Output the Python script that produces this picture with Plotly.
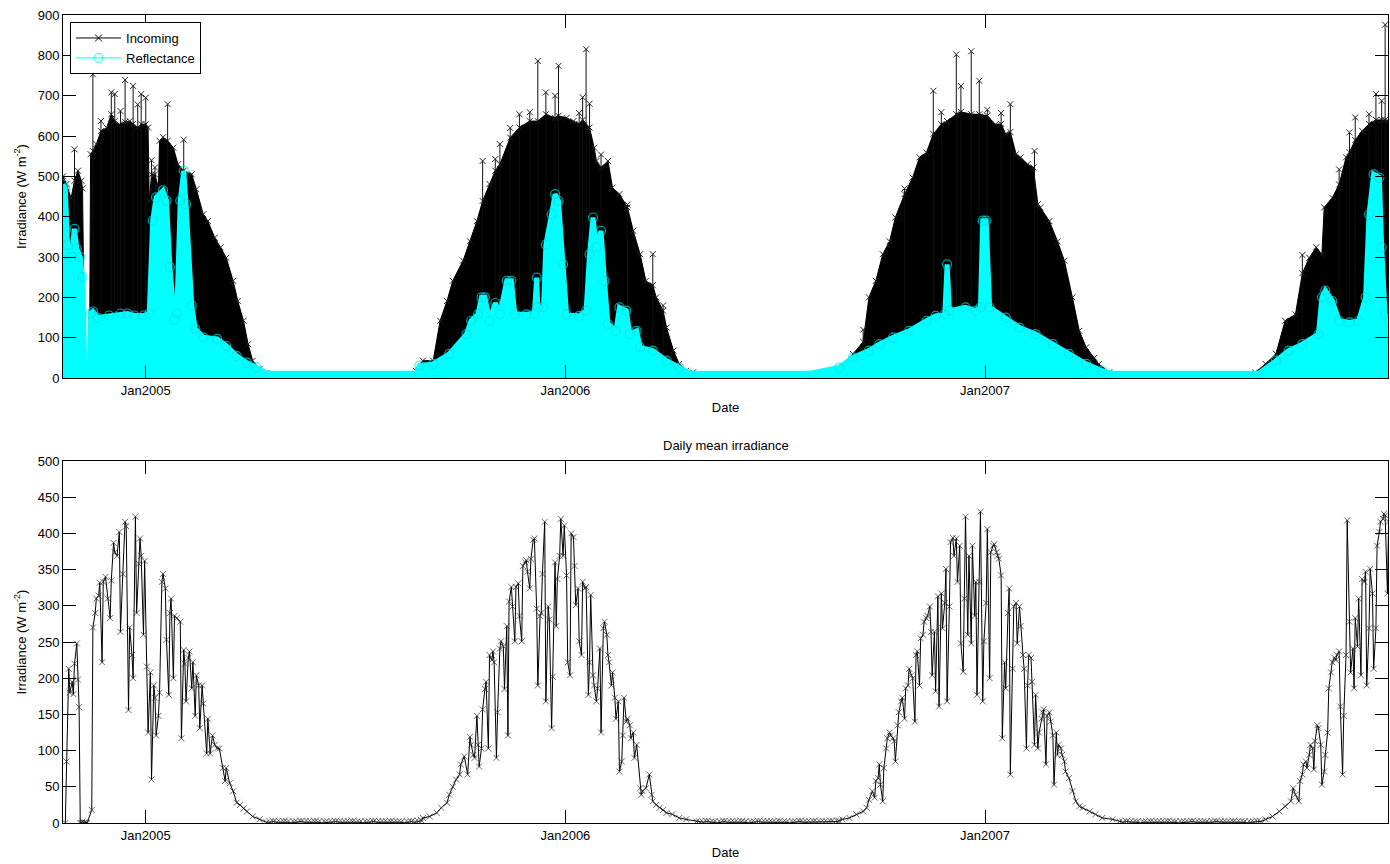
import pandas as pd
import plotly.graph_objects as go

BASE = "2004-10-21"          # day 0 of the record
X_END_DAY = 1152.5           # last day shown

# ---------------- top panel: incoming (daily envelope of hourly values) ----------------
inc_day = [0, 3, 7, 10, 13, 16, 17, 19, 23,
           24, 26, 29, 33, 38, 42, 45, 49, 54, 58, 61, 65, 68, 72, 74,
           75, 77, 80, 83, 84, 87, 91, 96, 100, 105, 112, 116, 122, 126, 132, 137, 142, 148, 152,
           157, 161, 165, 171, 177, 185, 250, 300,
           307, 313, 322, 328, 334, 339, 348, 354, 360, 365, 371, 376, 380, 389, 397, 406, 413, 420,
           428, 431, 438, 444, 449, 452, 458, 462, 464, 468, 474, 478, 484, 491, 496, 502, 507, 513,
           516, 522, 525, 531, 536, 542, 548, 555, 600, 650, 670,
           675, 687, 696, 701, 707, 713, 719, 724, 732, 739, 745, 751, 757, 764, 769, 777, 781, 790,
           797, 804, 811, 816, 820, 824, 829, 833, 839, 844, 848, 850, 858, 865, 871, 878, 884, 890,
           897, 901, 910, 918, 980, 1030,
           1037, 1046, 1055, 1063, 1072, 1078, 1084, 1090, 1095, 1097, 1104, 1110, 1116, 1119, 1124,
           1130, 1136, 1142, 1147, 1150, 1153]
inc_val = [500, 481, 446, 489, 514, 489, 470, 0, 0,
           555, 563, 580, 612, 621, 654, 637, 629, 635, 637, 630, 621, 629, 629, 621,
           439, 505, 505, 472, 588, 597, 588, 571, 530, 514, 505, 468, 406, 389, 348, 324, 298, 241, 191,
           142, 84, 43, 22, 12, 0, 0, 0,
           18, 43, 43, 142, 191, 241, 291, 339, 389, 439, 481, 514, 530, 596, 621, 637, 637, 654,
           645, 650, 645, 637, 630, 640, 621, 571, 538, 522, 538, 472, 456, 423, 365, 307, 241, 230,
           200, 167, 125, 68, 35, 18, 14, 0, 0, 0, 0,
           18, 60, 90, 200, 241, 307, 339, 398, 456, 497, 547, 559, 605, 629, 637, 654, 660, 654,
           654, 650, 629, 630, 605, 610, 555, 547, 530, 522, 431, 423, 389, 339, 291, 200, 117, 76,
           50, 35, 14, 0, 0, 0,
           14, 35, 60, 142, 158, 260, 298, 324, 307, 423, 447, 480, 547, 560, 590,
           613, 630, 640, 640, 640, 637]

# isolated high hourly readings (spikes) of incoming irradiance
inc_spike_day = [10, 26, 33, 42, 45, 50, 54, 61, 65, 68, 72, 77, 80, 91, 105,
                 365, 376, 380, 389, 397, 406, 413, 420, 428, 431, 449, 452, 455, 458, 468, 491, 513, 522,
                 696, 732, 757, 764, 777, 781, 790, 797, 804, 816, 824, 845,
                 1078, 1110, 1119, 1124, 1136, 1142, 1147, 1150]
inc_spike_val = [567, 753, 637, 708, 704, 662, 739, 724, 678, 704, 695, 540, 522, 679, 591,
                 538, 543, 580, 620, 654, 659, 786, 708, 700, 774, 657, 696, 815, 680, 554, 430, 307, 180,
                 120, 470, 712, 659, 802, 724, 810, 737, 665, 657, 679, 563,
                 305, 517, 609, 646, 654, 704, 687, 876]

# ---------------- top panel: reflectance (daily envelope) ----------------
ref_day = [0, 2, 4, 7, 10, 12, 15, 17, 19, 23, 24, 26, 30, 40, 50, 56, 62, 70, 75, 78,
           81, 87, 90, 93, 97, 99, 102, 105, 107, 112, 115, 122, 134, 142, 151, 160, 168, 177, 200, 250, 300,
           307, 310, 322, 336, 351, 355, 361, 364, 367, 371, 376, 380, 386, 390, 393, 403, 410, 412, 413, 418,
           420, 425, 428, 431, 435, 438, 449, 455, 458, 461, 464, 468, 471, 474, 481, 484, 490, 493, 499,
           502, 513, 525, 536, 545, 600, 650,
           675, 687, 701, 710, 722, 736, 751, 759, 767, 769, 771, 785, 794, 798, 800, 803, 806, 820, 832,
           846, 861, 875, 890, 904, 912, 960, 1010,
           1040, 1055, 1066, 1078, 1092, 1095, 1098, 1104, 1110, 1119, 1127, 1133, 1136, 1140, 1145,
           1147, 1150, 1153]
ref_val = [480, 470, 330, 300, 370, 320, 300, 250, 12, 12, 160, 165, 150, 155, 160, 160, 155, 155, 160, 390,
           448, 465, 440, 275, 145, 160, 440, 514, 431, 180, 122, 101, 97, 80, 55, 38, 27, 12, 12, 12, 12,
           12, 31, 35, 60, 109, 142, 158, 200, 200, 142, 186, 158, 241, 241, 158, 158, 160, 249, 175, 175,
           331, 406, 456, 439, 282, 158, 154, 167, 307, 398, 324, 365, 241, 134, 117, 175, 167, 109, 117,
           76, 68, 43, 26, 12, 12, 12,
           26, 51, 68, 84, 101, 117, 142, 154, 158, 282, 167, 175, 167, 175, 390, 390, 175, 150, 125,
           109, 84, 60, 35, 18, 12, 12, 12,
           12, 43, 68, 84, 109, 200, 217, 191, 142, 138, 142, 200, 406, 505, 497,
           324, 158, 142]

# ---------------- bottom panel: daily mean irradiance ----------------
mean_day_a = [2, 3, 5, 6, 8, 9, 10, 12, 13, 14, 15, 16, 17, 18, 19, 20, 21, 25, 26, 28,
              29, 31, 32, 34, 35, 37, 39, 41, 42, 44, 45, 47, 49, 50, 52, 54, 55, 57, 58, 60,
              61, 63, 64, 66, 67, 68, 70, 71, 73, 74, 76, 77, 79, 80, 81, 83, 84, 86, 87, 89,
              90, 92, 93, 94, 96, 97, 99, 102, 103, 105, 106, 107, 109, 110, 112, 113, 115, 116, 118, 119,
              121, 122, 125, 126, 128, 130, 132, 134, 136, 139, 141, 142, 145, 148, 151, 154, 157, 160, 165, 171,
              177]
mean_val_a = [0, 85, 213, 180, 195, 178, 220, 248, 198, 160, 0, 0, 2, 0, 1, 0, 0, 18, 270, 290,
              310, 314, 332, 222, 333, 340, 310, 283, 335, 387, 374, 369, 402, 264, 344, 416, 410, 156, 270, 232,
              200, 423, 290, 358, 393, 369, 260, 362, 216, 125, 208, 60, 190, 173, 121, 148, 180, 333, 344, 324,
              253, 177, 290, 310, 200, 286, 283, 278, 117, 239, 220, 168, 228, 237, 186, 222, 148, 204, 190, 131,
              190, 165, 96, 144, 96, 121, 108, 103, 103, 76, 58, 76, 55, 44, 28, 25, 20, 16, 9, 5,
              1]
winter_a_day = list(range(180, 313, 3))
winter_a_val = [1, 2, 1, 1, 2, 1, 0, 1, 1, 2, 1, 1, 1, 2, 1, 0, 1, 1, 1, 2,
                1, 1, 1, 1, 2, 1, 1, 0, 1, 1, 2, 1, 1, 1, 1, 2, 1, 1, 1, 0, 1, 2, 1, 2, 3]
mean_day_b = [313, 319, 325, 329, 334, 336, 339, 342, 345, 346, 349, 352, 354, 355, 357, 358, 360, 361, 362, 364,
              365, 367, 368, 370, 371, 373, 374, 375, 377, 378, 380, 381, 383, 384, 386, 387, 388, 390, 391, 393,
              394, 396, 397, 399, 400, 402, 403, 404, 406, 407, 409, 410, 412, 413, 415, 416, 417, 419, 420, 422,
              423, 425, 426, 428, 429, 430, 432, 433, 435, 436, 438, 439, 441, 442, 444, 445, 446, 448, 449, 451,
              452, 454, 455, 457, 458, 459, 461, 462, 464, 465, 467, 468, 470, 471, 473, 474, 475, 477, 478, 480,
              481, 483, 484, 486, 487, 488, 490, 491, 493, 494, 496, 497, 499, 502, 503, 504, 507, 510, 512, 513,
              516, 519, 522, 525, 530, 536, 542, 551]
mean_val_b = [7, 9, 14, 21, 28, 39, 50, 60, 67, 81, 92, 67, 119, 108, 94, 90, 148, 108, 78, 103,
              157, 185, 195, 103, 232, 225, 237, 222, 90, 153, 241, 251, 244, 185, 272, 121, 306, 326, 299, 251,
              326, 331, 286, 251, 355, 360, 363, 347, 324, 365, 391, 393, 296, 190, 286, 290, 344, 416, 168, 299,
              281, 131, 202, 360, 272, 337, 369, 420, 369, 411, 342, 222, 204, 400, 395, 355, 301, 324, 251, 232,
              333, 324, 326, 177, 222, 315, 204, 190, 168, 186, 241, 125, 269, 278, 260, 232, 222, 190, 208, 173,
              144, 168, 71, 85, 121, 173, 140, 144, 135, 117, 125, 90, 108, 48, 39, 44, 48, 67, 39, 30,
              25, 21, 18, 14, 12, 7, 5, 2]
winter_b_day = list(range(554, 675, 3))
winter_b_val = [1, 1, 2, 1, 1, 0, 1, 2, 1, 1, 1, 1, 2, 1, 0, 1, 1, 2, 1, 1,
                1, 1, 1, 2, 1, 1, 0, 1, 1, 2, 1, 1, 1, 2, 1, 1, 1, 1, 2, 1, 2]
mean_day_c = [675, 678, 684, 690, 696, 699, 701, 704, 706, 707, 709, 710, 711, 713, 714, 716, 717, 719, 720, 722,
              723, 724, 726, 727, 729, 730, 732, 733, 735, 736, 738, 739, 741, 742, 743, 745, 746, 748, 749, 751,
              752, 754, 755, 756, 758, 759, 761, 762, 764, 765, 767, 768, 769, 771, 772, 774, 775, 777, 778, 780,
              781, 783, 784, 785, 787, 788, 790, 791, 793, 794, 795, 797, 798, 800, 801, 803, 804, 806, 807, 809,
              810, 812, 813, 814, 816, 817, 819, 820, 822, 823, 824, 826, 827, 829, 830, 832, 833, 835, 836, 838,
              839, 840, 842, 843, 845, 846, 848, 849, 851, 852, 853, 855, 856, 858, 859, 861, 862, 864, 865, 866,
              868, 869, 871, 872, 875, 878, 881, 884, 887, 893, 898, 904, 913, 919]
mean_val_c = [3, 5, 7, 12, 16, 21, 32, 44, 35, 58, 62, 81, 53, 30, 76, 103, 117, 125, 121, 117,
              113, 85, 135, 153, 168, 173, 144, 186, 190, 213, 204, 200, 140, 232, 237, 190, 255, 260, 278, 283,
              286, 299, 264, 204, 264, 182, 313, 161, 317, 269, 304, 351, 168, 299, 388, 394, 369, 393, 333, 383,
              248, 209, 310, 423, 260, 369, 248, 383, 286, 333, 177, 333, 430, 168, 251, 304, 406, 200, 374, 383,
              385, 374, 369, 365, 342, 117, 222, 186, 290, 324, 67, 213, 299, 304, 248, 299, 272, 232, 213, 103,
              190, 232, 228, 195, 108, 177, 103, 125, 144, 153, 157, 81, 148, 153, 140, 121, 53, 125, 94, 108,
              103, 94, 85, 71, 62, 44, 30, 23, 21, 16, 12, 7, 5, 2]
winter_c_day = list(range(922, 1043, 3))
winter_c_val = [1, 2, 1, 1, 1, 0, 1, 1, 2, 1, 1, 1, 1, 2, 1, 1, 0, 1, 1, 1,
                2, 1, 1, 1, 1, 0, 1, 2, 1, 1, 1, 1, 2, 1, 1, 1, 0, 1, 1, 2, 2]
mean_day_d = [1046, 1052, 1058, 1063, 1068, 1070, 1072, 1075, 1076, 1078, 1079, 1081, 1082, 1084, 1085, 1087,
              1088, 1089, 1091, 1092, 1094, 1095, 1097, 1098, 1100, 1101, 1103, 1104, 1106, 1107, 1108, 1110,
              1111, 1113, 1114, 1116, 1117, 1119, 1120, 1122, 1123, 1124, 1126, 1127, 1129, 1130, 1132, 1133,
              1134, 1136, 1137, 1139, 1140, 1142, 1143, 1145, 1146, 1148, 1149, 1150, 1152, 1153]
mean_val_d = [5, 9, 16, 23, 30, 48, 39, 30, 58, 67, 81, 85, 76, 94, 108, 103,
              74, 113, 135, 131, 108, 53, 71, 94, 125, 186, 208, 222, 228, 225, 232, 237,
              161, 67, 148, 232, 418, 278, 208, 241, 186, 283, 244, 310, 204, 337, 333, 347,
              190, 269, 351, 317, 213, 269, 383, 402, 416, 420, 427, 425, 317, 416]

tick_dates = ["2005-01-01", "2006-01-01", "2007-01-01"]
tick_text = ["Jan2005", "Jan2006", "Jan2007"]


def dates(days):
    return list(pd.Timestamp(BASE) + pd.to_timedelta(days, unit="D"))


segments = [(mean_day_a, mean_val_a, 6), (winter_a_day, winter_a_val, 8),
            (mean_day_b, mean_val_b, 6), (winter_b_day, winter_b_val, 8),
            (mean_day_c, mean_val_c, 6), (winter_c_day, winter_c_val, 8),
            (mean_day_d, mean_val_d, 6)]
mean_day, mean_val, mean_size = [], [], []
for d, v, s in segments:
    mean_day += d
    mean_val += v
    mean_size += [s] * len(d)

spike_x, spike_y = [], []
for d, v in zip(dates(inc_spike_day), inc_spike_val):
    spike_x += [d, d, None]
    spike_y += [0, v, None]

# circles only where the reflectance rises above the winter baseline band
ref_marker_size = [0 if v <= 12 else 9 for v in ref_val]

FONT = "Liberation Sans, Arial, Helvetica, sans-serif"
XMARK = dict(symbol="x-thin-open", size=6, color="#222", line=dict(color="#222", width=1))

fig = go.Figure()
fig.add_trace(go.Scatter(x=dates(inc_day), y=inc_val, mode="lines+markers", fill="tozeroy",
                         fillcolor="black", line=dict(color="black", width=1), marker=XMARK,
                         xaxis="x", yaxis="y", showlegend=False, hoverinfo="skip"))
fig.add_trace(go.Scatter(x=spike_x, y=spike_y, mode="lines+markers",
                         line=dict(color="#111", width=1), marker=XMARK,
                         xaxis="x", yaxis="y", showlegend=False, hoverinfo="skip"))
fig.add_trace(go.Scatter(x=dates(ref_day), y=ref_val, mode="lines+markers", fill="tozeroy",
                         fillcolor="#00ffff", line=dict(color="#00ffff", width=5),
                         marker=dict(symbol="circle-open", size=ref_marker_size, color="#00e0e0",
                                     line=dict(color="#00e0e0", width=1.2)),
                         xaxis="x", yaxis="y", showlegend=False, hoverinfo="skip"))
# legend entries
fig.add_trace(go.Scatter(x=[None], y=[None], mode="lines+markers", name="Incoming",
                         line=dict(color="black", width=1),
                         marker=dict(symbol="x-thin-open", size=7, color="black", line=dict(color="black", width=1)),
                         xaxis="x", yaxis="y"))
fig.add_trace(go.Scatter(x=[None], y=[None], mode="lines+markers", name="Reflectance",
                         line=dict(color="#00ffff", width=1),
                         marker=dict(symbol="circle-open", size=9, color="#00ffff", line=dict(color="#00ffff", width=1)),
                         xaxis="x", yaxis="y"))

fig.add_trace(go.Scatter(x=dates(mean_day), y=mean_val, mode="lines+markers",
                         line=dict(color="black", width=1),
                         marker=dict(symbol="x-thin-open", size=mean_size, color="#222",
                                     line=dict(color="#222", width=1)),
                         xaxis="x2", yaxis="y2", showlegend=False, hoverinfo="skip"))

xrange = [pd.Timestamp(BASE), pd.Timestamp(BASE) + pd.Timedelta(days=X_END_DAY)]
axis_common = dict(showline=True, linecolor="black", linewidth=1, mirror="ticks", ticks="inside",
                   ticklen=13, tickcolor="black", showgrid=False, zeroline=False,
                   tickfont=dict(family=FONT, size=13, color="black"))
TITLE_FONT = dict(family=FONT, size=13, color="black")

fig.update_layout(
    width=1390, height=864, autosize=False,
    margin=dict(l=63, r=2, t=15, b=41),
    paper_bgcolor="white", plot_bgcolor="white",
    font=dict(family=FONT, size=13, color="black"),
    xaxis=dict(domain=[0, 1], anchor="y", range=xrange, tickvals=tick_dates, ticktext=tick_text,
               title=dict(text="Date", standoff=6, font=TITLE_FONT), **axis_common),
    yaxis=dict(domain=[0.5507, 1.0], anchor="x", range=[0, 900], dtick=100,
               title=dict(text="Irradiance (W m<sup>-2</sup>)", standoff=8, font=TITLE_FONT), **axis_common),
    xaxis2=dict(domain=[0, 1], anchor="y2", range=xrange, tickvals=tick_dates, ticktext=tick_text,
                title=dict(text="Date", standoff=6, font=TITLE_FONT), **axis_common),
    yaxis2=dict(domain=[0, 0.448], anchor="x2", range=[0, 500], dtick=50,
                title=dict(text="Irradiance (W m<sup>-2</sup>)", standoff=8, font=TITLE_FONT), **axis_common),
    legend=dict(x=0.0053, y=0.9913, xanchor="left", yanchor="top", bgcolor="white",
                bordercolor="black", borderwidth=1, font=dict(family=FONT, size=13, color="black"),
                tracegroupgap=0, itemwidth=45),
    annotations=[dict(text="Daily mean irradiance", x=0.5, y=0.4666, xref="paper", yref="paper",
                      xanchor="center", yanchor="middle", showarrow=False,
                      font=dict(family=FONT, size=13, color="black"))],
)

fig.write_html("out.html")
